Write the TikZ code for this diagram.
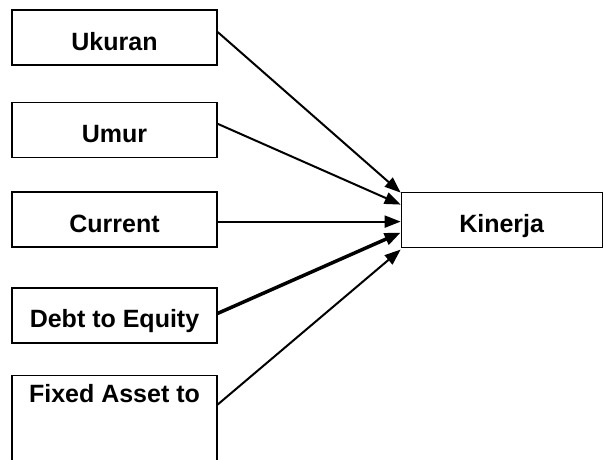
\documentclass[tikz,border=0pt]{standalone}
\usepackage{fontspec}
\setmainfont{Liberation Sans}
\usepackage{tikz}
\usetikzlibrary{arrows.meta,positioning}

\begin{document}
\begin{tikzpicture}[
  x=1pt,y=-1pt,
  box/.style={rectangle,draw=black,line width=1.3pt,
    minimum width=205pt,minimum height=55pt,inner sep=4pt,
    text height=25pt,text depth=0pt,align=center,
    font=\fontsize{25}{30}\selectfont\bfseries},
  arrow/.style={-{Triangle[length=16pt,width=12pt]},line width=2pt},
]
\useasboundingbox (0,0) rectangle (604,459);

\node[box] (ukuran) at (114.5,37.5) {Ukuran};
\node[box,below=36pt of ukuran] (umur) {Umur};
\node[box,below=33.5pt of umur] (current) {Current};
\node[box,below=39.5pt of current] (debt) {Debt to Equity};
\node[box,below=31pt of debt,text height=23pt,text depth=70pt] (fixed) {Fixed Asset to};
\node[box,right=183pt of current,minimum width=201pt,line width=1pt] (kinerja) {Kinerja};

\draw[arrow] ([yshift=5.5pt]ukuran.east) -- ([yshift=27pt]kinerja.west);
\draw[arrow] ([yshift=6pt]umur.east) -- ([yshift=15pt]kinerja.west);
\draw[arrow] ([yshift=-2pt]current.east) -- ([yshift=-2pt]kinerja.west);
\draw[arrow,line width=3.5pt] ([yshift=2pt]debt.east) -- ([yshift=-13pt]kinerja.west);
\draw[arrow] ([yshift=-30pt]fixed.north east) -- ([yshift=-30pt]kinerja.west);
\end{tikzpicture}
\end{document}
